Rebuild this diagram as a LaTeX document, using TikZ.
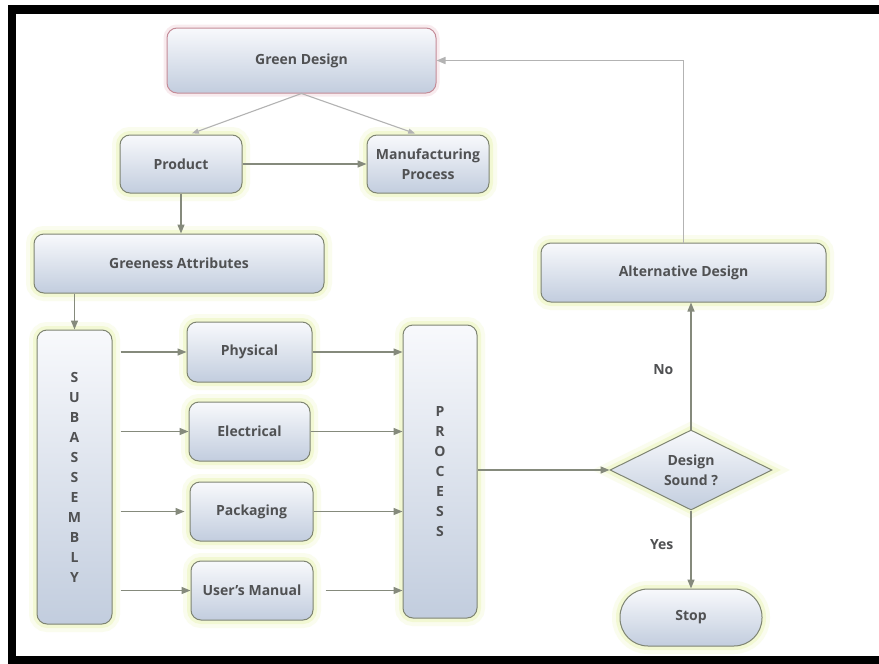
\documentclass[tikz,border=0pt]{standalone}
\usepackage{fontspec}
\setmainfont{Open Sans}
\usetikzlibrary{arrows.meta,shapes.geometric}
\definecolor{boxtop}{HTML}{F8F9FC}
\definecolor{boxbot}{HTML}{C2CDDE}
\definecolor{boxline}{HTML}{7E8472}
\definecolor{halo}{HTML}{E4F3A2}
\definecolor{pinkline}{HTML}{C48C98}
\definecolor{pinkhalo}{HTML}{F2D9DF}
\definecolor{txt}{HTML}{505153}
\definecolor{arrowc}{HTML}{858A7C}
\definecolor{lightarrow}{HTML}{B3B3B3}

\tikzset{
  glowbox/.style={
    preaction={draw=halo, line width=16pt, opacity=0.18},
    preaction={draw=halo, line width=8pt, opacity=0.35}},
  pinkglow/.style={
    preaction={draw=pinkhalo, line width=7pt, opacity=0.5}},
  box/.style={rectangle, rounded corners=10pt, draw=boxline, line width=1pt,
    top color=boxtop, bottom color=boxbot, text=txt,
    font=\bfseries\fontsize{14}{20}\selectfont, align=center, inner sep=0pt},
  stepbox/.style={box, glowbox},
  topbox/.style={box, draw=pinkline, pinkglow},
  decision/.style={diamond, aspect=2, draw=boxline, line width=1pt,
    top color=boxtop, bottom color=boxbot, text=txt,
    font=\bfseries\fontsize{14}{20}\selectfont, align=center, inner sep=0pt, glowbox},
  conn/.style={draw=arrowc, line width=1.4pt, -{Triangle[length=9pt,width=7pt]}},
  lightconn/.style={draw=lightarrow, line width=1.1pt, -{Triangle[length=7pt,width=5pt]}},
  lbl/.style={text=txt, font=\bfseries\fontsize{14}{20}\selectfont, inner sep=0pt},
}

\begin{document}
\begin{tikzpicture}[x=1pt, y=-1pt]
  \useasboundingbox (0,0) rectangle (879,664);
  \fill[white] (0,0) rectangle (879,664);

  % frame
  \fill[black] (8,5) rectangle (879,14);
  \fill[black] (8,5) rectangle (16,664);
  \fill[black] (8,656) rectangle (879,664);

  % boxes
  \node[topbox, minimum width=269pt, minimum height=65pt] (gd) at (301.5,60.5) {Green Design};
  \node[stepbox, minimum width=122pt, minimum height=58pt] (prod) at (181,164) {Product};
  \node[stepbox, minimum width=122pt, minimum height=58pt] (mfg) at (428,164) {Manufacturing\\Process};
  \node[stepbox, minimum width=290pt, minimum height=59pt] (gattr) at (179,263.5) {Greeness Attributes};
  \node[stepbox, minimum width=75pt, minimum height=294pt] (sub) at (74.5,477) {S\\U\\B\\A\\S\\S\\E\\M\\B\\L\\Y};
  \node[stepbox, minimum width=125pt, minimum height=60pt] (phys) at (249.5,352) {Physical};
  \node[stepbox, minimum width=121pt, minimum height=59pt] (elec) at (249.5,431.5) {Electrical};
  \node[stepbox, minimum width=123pt, minimum height=59pt] (pack) at (251.5,511.5) {Packaging};
  \node[stepbox, minimum width=122pt, minimum height=59pt] (manual) at (252,590.5) {User’s Manual};
  \node[stepbox, minimum width=74pt, minimum height=293pt] (proc) at (440,471.5) {P\\R\\O\\C\\E\\S\\S};
  \node[stepbox, minimum width=285pt, minimum height=59pt] (alt) at (683.5,272.5) {Alternative Design};
  \node[decision, minimum width=162pt, minimum height=80pt] (dec) at (691,470) {Design\\Sound ?};
  \node[stepbox, rounded corners=28pt, minimum width=142pt, minimum height=57pt] (stop) at (691,617.5) {Stop};

  % connectors
  \draw[lightconn, shorten >=3pt] (gd.south) -- ([xshift=8pt]prod.north);
  \draw[lightconn, shorten >=3pt] (gd.south) -- ([xshift=-10pt]mfg.north);
  \draw[conn] (prod.east) -- (mfg.west);
  \draw[conn] (prod.south) -- (prod.south |- gattr.north);
  \draw[conn] (sub.north |- gattr.south) -- (sub.north);

  \draw[conn, shorten <=8pt] (sub.east |- phys.west) -- (phys.west);
  \draw[conn, shorten <=8pt] (sub.east |- elec.west) -- (elec.west);
  \draw[conn, shorten <=8pt, shorten >=5pt] (sub.east |- pack.west) -- (pack.west);
  \draw[conn, shorten <=8pt] (sub.east |- manual.west) -- (manual.west);

  \draw[conn] (phys.east) -- (proc.west |- phys.east);
  \draw[conn] (elec.east) -- (proc.west |- elec.east);
  \draw[conn] (pack.east) -- (proc.west |- pack.east);
  \draw[conn, shorten <=12pt] (manual.east) -- (proc.west |- manual.east);

  \draw[conn] (proc.east |- dec.west) -- (dec.west);
  \draw[conn] (dec.north) -- node[lbl, pos=0.47, left=17pt] (no) {No} (dec.north |- alt.south);
  \draw[conn] (dec.south) -- node[lbl, pos=0.44, left=17pt] (yes) {Yes} (stop.north);
  \draw[lightconn, line width=1.6pt, -{Triangle[length=9pt,width=7pt]}] (alt.north) |- (gd.east);
\end{tikzpicture}
\end{document}
